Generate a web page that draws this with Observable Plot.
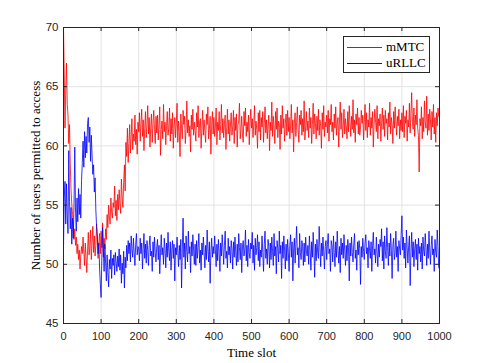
<!DOCTYPE html>
<html>
<head>
<meta charset="utf-8">
<script src="https://cdn.jsdelivr.net/npm/d3@7"></script>
<script src="https://cdn.jsdelivr.net/npm/@observablehq/plot@0.6"></script>
<style>
  html, body { margin: 0; padding: 0; background: #fff; }
  #wrap { position: relative; width: 485px; height: 363px; }
  #legend { position: absolute; left: 343px; top: 36px; width: 85px; height: 35px; border: 1px solid #262626; background: #fff;
            font-family: "Liberation Serif", "Times New Roman", serif; font-size: 13px; color: #000; }
  .row { position: absolute; left: 0; height: 16px; display: flex; align-items: center; }
  .sw { display: inline-block; width: 35px; height: 0; border-top: 1px solid; margin-left: 3px; margin-right: 4px; }
</style>
</head>
<body>
<div id="wrap"></div>
<script>
// time slot spacing between successive samples
const slotStep = 2;
const seriesNames = ["mMTC", "uRLLC"];
const seriesColors = ["#ff0000", "#0000ff"];
const xTicks = [0, 100, 200, 300, 400, 500, 600, 700, 800, 900, 1000];
const yTicks = [45, 50, 55, 60, 65, 70];

const mmtc = [
70, 66, 61.5, 64.8, 67, 63.5, 62.6, 60.2, 61.8, 58.4, 56.3, 55.1, 54.2, 53.4, 52.1, 53.0, 51.6, 52.3, 50.9, 51.7, 50.4, 51.2, 49.6, 50.8, 51.5,
50.9, 52.3, 51.1, 49.9, 51.8, 50.6, 49.3, 51.2, 52.7, 50.8, 51.5, 52.9, 50.4, 51.9, 53.2, 51.0, 52.4, 50.7, 51.6, 53.4, 52.0, 50.5, 51.8, 52.6, 50.9,
52.8, 51.4, 53.5, 50.6, 52.2, 51.3, 53.0, 52.1, 54.2, 53.1, 55.0, 54.0, 53.4, 55.6, 54.4, 53.9, 55.2, 54.8, 56.6, 54.1, 55.4, 53.7, 55.9, 54.6, 56.3,
55.1, 54.3, 57.2, 55.6, 54.8, 56.9, 58.4, 56.2, 60.3, 59.1, 61.5, 58.6, 60.2, 61.8, 59.4, 60.8, 62.3, 59.7, 61.0, 60.4, 62.6, 60.1, 61.4, 59.3, 62.0,
61.2, 62.8, 60.4, 61.9, 63.1, 60.8, 62.2, 59.6, 61.5, 62.9, 60.7, 61.8, 63.4, 61.0, 62.4, 59.9, 61.6, 62.7, 60.3, 61.9, 63.0, 61.4, 60.2, 62.5, 61.1,
62.6, 60.5, 61.8, 63.3, 59.2, 61.4, 62.1, 60.6, 63.5, 61.2, 62.0, 60.1, 61.7, 62.9, 60.9, 61.5, 63.2, 60.4, 62.3, 61.0, 62.8, 59.8, 61.6, 62.4, 60.7,
61.9, 63.6, 60.3, 62.1, 61.2, 59.1, 62.7, 61.5, 60.6, 63.0, 61.8, 62.5, 60.2, 61.3, 63.8, 61.1, 62.2, 60.8, 61.7, 59.5, 62.6, 61.4, 63.1, 60.9, 62.0,
61.3, 60.4, 62.8, 61.6, 63.4, 60.7, 61.9, 62.3, 59.8, 61.5, 63.0, 60.9, 62.2, 61.2, 60.3, 62.7, 61.8, 63.3, 60.6, 61.4, 62.5, 59.3, 61.7, 62.9, 61.0,
62.4, 60.8, 61.6, 63.2, 60.1, 62.0, 61.3, 62.9, 60.5, 61.8, 63.5, 61.1, 62.3, 60.7, 61.9, 62.6, 59.7, 61.5, 63.1, 61.0, 62.2, 60.4, 61.7, 62.8, 60.9,
61.6, 63.0, 60.2, 62.4, 61.3, 62.7, 59.9, 61.8, 62.1, 63.6, 60.6, 61.4, 62.5, 61.0, 60.3, 62.9, 61.7, 63.2, 60.8, 62.0, 61.2, 62.6, 60.1, 61.9, 63.1,
61.5, 62.3, 60.7, 61.8, 63.4, 60.9, 62.1, 61.4, 59.8, 62.8, 61.2, 63.0, 60.5, 62.4, 61.6, 62.9, 60.3, 61.9, 63.3, 61.1, 62.2, 60.6, 61.7, 62.6, 59.6,
62.0, 61.3, 63.7, 60.8, 62.5, 61.6, 60.2, 62.9, 61.4, 63.2, 60.7, 62.1, 61.8, 59.7, 62.6, 61.0, 63.4, 61.5, 62.3, 60.4, 61.9, 62.7, 60.9, 63.0, 61.2,
62.4, 60.6, 61.7, 63.5, 61.1, 62.2, 59.5, 61.9, 62.8, 60.8, 62.0, 63.3, 61.4, 60.3, 62.6, 61.8, 63.0, 60.9, 62.3, 61.2, 63.8, 60.5, 61.6, 62.9, 61.3,
62.1, 60.7, 63.2, 61.5, 62.4, 60.2, 61.8, 63.6, 61.0, 62.7, 61.9, 60.6, 62.5, 61.3, 63.1, 60.9, 62.2, 61.7, 59.8, 62.8, 61.4, 63.4, 60.8, 62.0, 61.6,
62.6, 61.1, 63.0, 60.4, 62.3, 61.8, 63.5, 61.2, 62.0, 60.5, 62.7, 61.5, 63.3, 60.9, 61.9, 62.4, 59.9, 62.1, 63.7, 61.4, 62.8, 60.7, 61.6, 63.1, 61.0,
62.3, 61.7, 60.6, 62.9, 61.2, 63.4, 62.0, 60.8, 62.5, 61.4, 63.9, 61.1, 62.2, 60.3, 62.7, 61.8, 63.2, 61.0, 62.4, 60.9, 61.6, 63.0, 61.9, 62.6, 60.5,
62.1, 63.5, 61.3, 62.8, 60.7, 62.2, 61.6, 63.6, 60.9, 62.4, 61.5, 62.9, 59.9, 61.8, 63.1, 62.0, 61.2, 63.4, 60.6, 62.3, 61.7, 62.7, 60.4, 62.0, 63.2,
61.4, 62.6, 60.8, 63.0, 61.9, 62.3, 60.5, 62.8, 61.6, 63.7, 61.0, 62.4, 61.8, 60.2, 62.9, 61.5, 63.3, 62.1, 60.9, 62.5, 61.7, 63.1, 60.6, 62.2, 61.3,
62.8, 61.2, 63.4, 60.7, 62.5, 61.9, 63.0, 60.4, 62.2, 61.6, 63.6, 61.1, 62.7, 64.5, 62.0, 61.4, 63.2, 60.8, 62.6, 61.8, 63.9, 61.5, 60.9, 57.8, 62.3,
61.7, 63.3, 60.6, 62.4, 61.2, 63.8, 62.0, 61.5, 64.2, 60.9, 62.7, 61.3, 63.1, 62.2, 60.5, 62.9, 61.6, 63.5, 61.0, 62.4, 60.3, 62.8, 61.7, 63.2, 62.5
];

const urllc = [
51.4, 55.6, 57.0, 53.4, 56.8, 54.1, 52.6, 59.6, 55.3, 53.0, 54.8, 51.7, 53.9, 52.2, 55.1, 59.9, 54.4, 52.8, 55.6, 53.6, 56.4, 54.2, 55.9, 53.9, 57.1,
58.6, 60.4, 58.2, 61.2, 59.0, 60.8, 59.4, 61.9, 62.4, 60.3, 61.6, 58.7, 60.9, 59.2, 57.6, 58.4, 56.1, 57.3, 54.6, 53.2, 52.4, 50.9, 51.8, 49.6, 48.3,
47.2, 50.6, 53.1, 51.2, 49.4, 51.7, 50.1, 48.6, 50.8, 49.3, 48.1, 50.4, 49.6, 51.2, 48.8, 50.5, 49.9, 50.8, 49.1, 51.0, 50.2, 49.4, 50.7, 49.8, 51.3,
49.5, 50.8, 48.4, 50.1, 49.2, 51.1, 48.0, 50.6, 49.7, 51.6, 50.3, 52.0, 50.9, 51.8, 50.2, 52.4, 51.3, 50.6, 52.2, 51.0, 49.9, 51.7, 52.6, 50.8, 51.5,
51.4, 50.3, 52.2, 50.9, 51.8, 49.6, 51.3, 52.6, 50.5, 51.7, 50.1, 52.0, 51.2, 49.9, 51.6, 52.4, 50.7, 51.1, 49.4, 51.9, 50.6, 52.3, 51.0, 50.2, 51.5,
52.1, 50.4, 51.6, 49.2, 51.0, 52.5, 50.8, 51.4, 50.0, 52.2, 51.3, 49.7, 51.8, 50.6, 52.7, 51.1, 50.3, 51.9, 49.5, 51.2, 52.0, 50.5, 51.7, 48.6, 51.4,
50.8, 52.3, 51.0, 49.8, 51.6, 50.4, 52.1, 48.0, 51.3, 53.9, 50.6, 51.8, 49.6, 52.4, 51.1, 50.2, 52.8, 50.9, 51.5, 49.3, 51.9, 50.7, 52.5, 51.2, 50.0,
51.7, 49.9, 52.0, 50.5, 51.4, 52.6, 50.1, 51.2, 49.5, 51.8, 50.8, 52.3, 51.0, 49.7, 51.6, 50.4, 52.9, 51.3, 50.2, 51.9, 48.4, 51.1, 52.2, 50.6, 51.5,
50.9, 52.4, 51.2, 49.8, 51.7, 50.3, 52.1, 51.0, 49.4, 51.8, 50.7, 52.5, 51.4, 50.0, 51.6, 52.8, 50.5, 51.1, 49.7, 52.2, 50.8, 51.5, 50.1, 52.0, 51.3,
49.6, 51.9, 50.6, 52.3, 51.1, 49.9, 51.7, 50.2, 52.6, 51.4, 50.4, 51.8, 49.3, 51.5, 52.0, 50.7, 51.2, 52.9, 50.3, 51.6, 49.8, 52.1, 51.0, 50.5, 51.8,
51.3, 52.7, 50.1, 51.6, 49.5, 52.2, 50.8, 51.4, 52.5, 50.3, 51.9, 49.8, 51.2, 50.6, 52.4, 51.0, 49.4, 51.7, 52.8, 50.5, 51.3, 50.0, 52.1, 51.5, 49.7,
51.8, 50.4, 52.3, 51.1, 49.9, 52.6, 50.7, 51.5, 49.2, 52.0, 51.3, 50.2, 52.8, 50.9, 51.6, 48.8, 51.9, 50.5, 52.4, 51.2, 49.6, 51.7, 50.3, 52.1, 51.0,
49.4, 51.6, 52.5, 50.6, 51.9, 48.6, 51.3, 52.2, 50.1, 51.7, 53.2, 50.8, 51.4, 49.7, 52.6, 51.0, 50.4, 52.0, 51.5, 49.9, 51.8, 50.2, 52.3, 51.1, 50.7,
51.6, 50.0, 52.4, 51.2, 49.5, 51.9, 50.6, 52.7, 51.3, 48.9, 51.7, 50.3, 52.1, 51.0, 50.5, 53.2, 51.4, 49.8, 51.8, 50.7, 52.3, 51.1, 49.6, 51.5, 52.0,
50.4, 51.7, 52.6, 50.9, 51.3, 49.4, 52.0, 51.6, 50.2, 52.4, 51.0, 49.8, 51.9, 50.6, 52.8, 51.2, 50.1, 51.5, 49.3, 52.2, 50.8, 51.8, 50.5, 52.5, 51.1,
49.9, 51.6, 50.3, 52.1, 51.4, 48.6, 51.8, 50.7, 52.3, 51.0, 50.2, 51.7, 52.6, 50.5, 51.2, 49.5, 51.9, 50.8, 52.0, 51.3, 48.3, 51.5, 50.6, 52.2, 51.1,
50.4, 51.8, 52.5, 50.9, 51.4, 49.7, 52.0, 51.2, 50.5, 51.9, 49.4, 51.6, 52.7, 50.8, 51.3, 50.1, 52.3, 51.0, 49.8, 51.7, 50.6, 52.1, 51.5, 53.0, 50.3,
51.9, 49.6, 52.4, 51.1, 50.5, 53.1, 51.4, 49.9, 51.8, 50.7, 52.6, 51.2, 48.8, 51.6, 52.2, 50.4, 51.0, 52.8, 50.6, 51.5, 49.4, 52.0, 51.3, 50.8, 52.5,
54.1, 51.2, 52.3, 50.5, 51.8, 49.7, 52.9, 51.4, 50.1, 51.6, 52.4, 48.2, 51.0, 52.7, 50.6, 51.9, 49.8, 51.3, 52.1, 50.4, 51.7, 49.5, 52.2, 50.9, 51.5,
50.2, 51.8, 49.6, 52.3, 51.1, 50.7, 52.6, 51.4, 49.9, 51.7, 50.5, 52.8, 51.2, 50.0, 51.6, 52.4, 50.8, 51.3, 49.4, 52.1, 51.0, 50.6, 52.9, 51.5, 49.7
];

const allSeries = [mmtc, urllc];
const rows = allSeries.flatMap((vals, s) =>
  vals.map((v, i) => ({series: seriesNames[s], slot: i * slotStep, value: v})));

const W = 485, H = 363;
const mL = 63, mR = 46, mT = 27, mB = 40;
const innerW = W - mL - mR, innerH = H - mT - mB;
const tickLen = 4;
const axisColor = "#262626";
const sans = "'Liberation Sans', Arial, Helvetica, sans-serif";
const serif = "'Liberation Serif', 'Times New Roman', serif";

const chart = Plot.plot({
  width: W, height: H,
  marginLeft: mL, marginRight: mR, marginTop: mT, marginBottom: mB,
  style: {fontFamily: sans, fontSize: "11px", color: axisColor, background: "#fff"},
  x: {domain: [0, 1000], ticks: xTicks, label: null},
  y: {domain: [45, 70], ticks: yTicks, label: null},
  color: {domain: seriesNames, range: seriesColors},
  marks: [
    Plot.gridX(xTicks, {stroke: "#e3e3e3", strokeOpacity: 1}),
    Plot.gridY(yTicks, {stroke: "#e3e3e3", strokeOpacity: 1}),
    Plot.lineY(rows, {x: "slot", y: "value", z: "series", stroke: "series", strokeWidth: 0.8, clip: true}),
    // inward tick marks on all four sides (MATLAB style)
    Plot.tickX(xTicks, {x: d => d, stroke: axisColor, insetTop: innerH - tickLen}),
    Plot.tickX(xTicks, {x: d => d, stroke: axisColor, insetBottom: innerH - tickLen}),
    Plot.tickY(yTicks, {y: d => d, stroke: axisColor, insetRight: innerW - tickLen}),
    Plot.tickY(yTicks, {y: d => d, stroke: axisColor, insetLeft: innerW - tickLen}),
    Plot.axisX(xTicks, {tickSize: 0, tickPadding: 9, fontSize: 11, fill: axisColor, tickFormat: d => String(d)}),
    Plot.axisY(yTicks, {tickSize: 0, tickPadding: 5, fontSize: 11.5, fill: axisColor, tickFormat: d => String(d)}),
    Plot.frame({stroke: axisColor, strokeWidth: 1}),
    Plot.text(["Time slot"], {frameAnchor: "bottom", dy: 29, text: d => d, fontFamily: serif, fontSize: 13, fill: "#000", lineAnchor: "middle"}),
    Plot.text(["Number of users permitted to access"], {frameAnchor: "left", dx: -28, rotate: -90, text: d => d, fontFamily: serif, fontSize: 13, fill: "#000", textAnchor: "middle", lineAnchor: "middle"})
  ]
});

const wrap = document.getElementById("wrap");
wrap.appendChild(chart);

const legend = document.createElement("div");
legend.id = "legend";
seriesNames.forEach((name, i) => {
  const r = document.createElement("div");
  r.className = "row";
  r.style.top = (2 + i * 16) + "px";
  const sw = document.createElement("span");
  sw.className = "sw";
  sw.style.borderTopColor = seriesColors[i];
  const t = document.createElement("span");
  t.textContent = name;
  r.appendChild(sw);
  r.appendChild(t);
  legend.appendChild(r);
});
wrap.appendChild(legend);
</script>
</body>
</html>
